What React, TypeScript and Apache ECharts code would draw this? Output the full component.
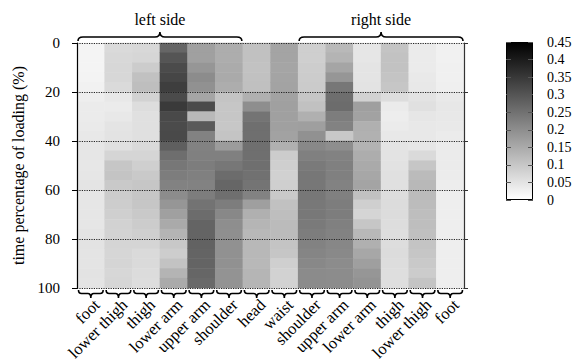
import React, { useEffect, useRef } from "react";
import * as echarts from "echarts";

// body parts along the x axis
const parts = [
  "foot", "lower thigh", "thigh", "lower arm", "upper arm", "shoulder",
  "head", "waist",
  "shoulder", "upper arm", "lower arm", "thigh", "lower thigh", "foot",
];

// time rows (mid-point of each 4 % band of loading time)
const timeRows = [
  "2", "6", "10", "14", "18", "22", "26", "30", "34", "38", "42", "46", "50",
  "54", "58", "62", "66", "70", "74", "78", "82", "86", "90", "94", "98",
];

// values per column, top (0 %) to bottom (100 %)
const footL = [0.02, 0.02, 0.02, 0.022, 0.025, 0.03, 0.035, 0.035, 0.037, 0.04, 0.045, 0.045, 0.042, 0.045, 0.048, 0.045, 0.045, 0.045, 0.045, 0.048, 0.05, 0.048, 0.048, 0.05, 0.048];
const lowerThighL = [0.065, 0.068, 0.07, 0.07, 0.065, 0.04, 0.035, 0.04, 0.048, 0.05, 0.055, 0.075, 0.1, 0.105, 0.095, 0.09, 0.088, 0.085, 0.08, 0.078, 0.075, 0.072, 0.075, 0.07, 0.072];
const thighL = [0.068, 0.072, 0.09, 0.11, 0.115, 0.08, 0.06, 0.055, 0.055, 0.055, 0.065, 0.075, 0.085, 0.095, 0.1, 0.1, 0.1, 0.095, 0.09, 0.085, 0.075, 0.065, 0.065, 0.062, 0.06];
const lowerArmL = [0.27, 0.3, 0.318, 0.326, 0.34, 0.318, 0.348, 0.322, 0.318, 0.322, 0.282, 0.256, 0.24, 0.229, 0.22, 0.203, 0.185, 0.168, 0.15, 0.132, 0.097, 0.088, 0.106, 0.132, 0.15];
const upperArmL = [0.168, 0.168, 0.185, 0.203, 0.194, 0.159, 0.318, 0.124, 0.291, 0.221, 0.221, 0.225, 0.229, 0.225, 0.221, 0.229, 0.247, 0.26, 0.274, 0.274, 0.277, 0.274, 0.274, 0.27, 0.265];
const shoulderL = [0.145, 0.145, 0.148, 0.15, 0.145, 0.105, 0.1, 0.1, 0.098, 0.105, 0.175, 0.225, 0.24, 0.26, 0.27, 0.255, 0.23, 0.21, 0.2, 0.198, 0.195, 0.195, 0.195, 0.19, 0.19];
const head = [0.11, 0.11, 0.108, 0.11, 0.112, 0.14, 0.2, 0.245, 0.255, 0.255, 0.255, 0.255, 0.255, 0.25, 0.245, 0.22, 0.17, 0.14, 0.13, 0.125, 0.125, 0.125, 0.125, 0.13, 0.13];
const waist = [0.16, 0.16, 0.158, 0.16, 0.162, 0.165, 0.168, 0.168, 0.168, 0.165, 0.14, 0.09, 0.085, 0.082, 0.085, 0.095, 0.11, 0.115, 0.12, 0.12, 0.105, 0.1, 0.085, 0.08, 0.08];
const shoulderR = [0.085, 0.085, 0.088, 0.09, 0.092, 0.1, 0.11, 0.14, 0.17, 0.195, 0.21, 0.225, 0.235, 0.24, 0.24, 0.24, 0.238, 0.238, 0.235, 0.23, 0.22, 0.215, 0.21, 0.205, 0.205];
const upperArmR = [0.124, 0.132, 0.159, 0.185, 0.24, 0.256, 0.26, 0.23, 0.22, 0.097, 0.2, 0.22, 0.225, 0.225, 0.221, 0.225, 0.229, 0.229, 0.225, 0.221, 0.212, 0.208, 0.203, 0.203, 0.203];
const lowerArmR = [0.045, 0.045, 0.047, 0.048, 0.05, 0.08, 0.17, 0.165, 0.14, 0.138, 0.135, 0.145, 0.15, 0.155, 0.16, 0.11, 0.085, 0.075, 0.1, 0.125, 0.14, 0.155, 0.17, 0.185, 0.19];
const thighR = [0.105, 0.108, 0.108, 0.105, 0.1, 0.06, 0.035, 0.032, 0.035, 0.04, 0.048, 0.05, 0.052, 0.055, 0.055, 0.06, 0.062, 0.062, 0.06, 0.058, 0.06, 0.062, 0.06, 0.058, 0.058];
const lowerThighR = [0.035, 0.035, 0.035, 0.038, 0.04, 0.05, 0.055, 0.045, 0.04, 0.04, 0.045, 0.065, 0.1, 0.12, 0.125, 0.12, 0.118, 0.115, 0.115, 0.112, 0.105, 0.1, 0.095, 0.09, 0.105];
const footR = [0.025, 0.025, 0.026, 0.026, 0.028, 0.038, 0.042, 0.04, 0.038, 0.035, 0.035, 0.035, 0.035, 0.033, 0.032, 0.03, 0.03, 0.03, 0.03, 0.03, 0.03, 0.03, 0.03, 0.03, 0.03];

const columns = [
  footL, lowerThighL, thighL, lowerArmL, upperArmL, shoulderL,
  head, waist,
  shoulderR, upperArmR, lowerArmR, thighR, lowerThighR, footR,
];

// group braces on top
const sideLabels = ["left side", "right side"];
const sideStart = [0, 8];
const sideEnd = [5, 13];

// colour scale
const scaleMin = 0;
const scaleMax = 0.45;
const scaleStep = 0.05;

const FONT = "'Liberation Serif', 'Times New Roman', Times, serif";

export default function App() {
  const ref = useRef<HTMLDivElement>(null);

  useEffect(() => {
    if (!ref.current) return;
    const chart = echarts.init(ref.current, undefined, { renderer: "svg" });

    const heatData: number[][] = [];
    columns.forEach((col, xi) => {
      col.forEach((v, yi) => heatData.push([xi, yi, v]));
    });

    const bottomBraces = parts.map((_, i) => [i, 0]);
    const topBraces = sideStart.map((s, i) => [s, sideEnd[i], 0, i]);

    const option: any = {
      animation: false,
      textStyle: { fontFamily: FONT, color: "#000" },
      grid: [
        { left: 77, top: 43, width: 387, height: 245, containLabel: false, outerBoundsMode: "none" },
        { left: 506, top: 42, width: 27, height: 158, containLabel: false, outerBoundsMode: "none" },
      ],
      visualMap: {
        type: "continuous",
        show: false,
        min: scaleMin,
        max: scaleMax,
        dimension: 2,
        seriesIndex: 0,
        inRange: { color: ["#ffffff", "#000000"] },
      },
      xAxis: [
        {
          gridIndex: 0,
          type: "category",
          data: parts,
          axisLine: { show: false },
          axisTick: { show: false },
          splitLine: { show: false },
          axisLabel: {
            interval: 0,
            rotate: 45,
            margin: 8,
            verticalAlign: "top",
            color: "#000",
            fontFamily: FONT,
            fontSize: 16.5,
          },
        },
        { gridIndex: 1, type: "category", data: [""], show: false },
      ],
      yAxis: [
        {
          gridIndex: 0,
          type: "category",
          data: timeRows,
          inverse: true,
          show: false,
        },
        {
          gridIndex: 0,
          type: "value",
          min: 0,
          max: 100,
          interval: 20,
          inverse: true,
          position: "left",
          z: 5,
          name: "time percentage of loading (%)",
          nameLocation: "middle",
          nameGap: 51,
          nameTextStyle: { fontFamily: FONT, fontSize: 16, color: "#000" },
          axisLine: { show: true, lineStyle: { color: "#000", width: 1.2 } },
          axisTick: { show: true, length: 5, lineStyle: { color: "#000" } },
          axisLabel: { margin: 17, color: "#000", fontFamily: FONT, fontSize: 15 },
          splitLine: {
            show: true,
            lineStyle: { color: "#222", type: [1.2, 1.2], width: 1.2 },
          },
        },
        {
          gridIndex: 0,
          type: "value",
          min: 0,
          max: 100,
          interval: 20,
          inverse: true,
          position: "right",
          z: 5,
          axisLine: { show: true, lineStyle: { color: "#333", width: 1.2 } },
          axisTick: { show: true, length: 4, lineStyle: { color: "#333" } },
          axisLabel: { show: false },
          splitLine: { show: false },
        },
        {
          gridIndex: 1,
          type: "value",
          min: scaleMin,
          max: scaleMax,
          interval: scaleStep,
          position: "right",
          z: 5,
          axisLine: { show: false },
          axisTick: { show: true, inside: true, length: 5, lineStyle: { color: "#555" } },
          axisLabel: { margin: 14, color: "#000", fontFamily: FONT, fontSize: 14 },
          splitLine: { show: false },
        },
        {
          gridIndex: 1,
          type: "value",
          min: scaleMin,
          max: scaleMax,
          interval: scaleStep,
          position: "left",
          z: 5,
          axisLine: { show: false },
          axisTick: { show: true, inside: true, length: 5, lineStyle: { color: "#555" } },
          axisLabel: { show: false },
          splitLine: { show: false },
        },
      ],
      series: [
        {
          type: "heatmap",
          xAxisIndex: 0,
          yAxisIndex: 0,
          data: heatData,
          emphasis: { disabled: true },
          z: 1,
        },
        {
          type: "custom",
          xAxisIndex: 0,
          yAxisIndex: 0,
          clip: false,
          silent: true,
          data: bottomBraces,
          encode: { x: 0, y: 1 },
          renderItem: (params: any, api: any) => {
            const cs = params.coordSys;
            const cx = api.coord([api.value(0), 0])[0];
            const w = api.size([1, 0])[0];
            const xL = cx - w / 2 + 1.5;
            const xR = cx + w / 2 - 1.5;
            const base = cs.y + cs.height;
            const y0 = base + 2;
            const y1 = base + 5.5;
            const y2 = base + 10;
            const r = 3;
            const d =
              `M${xL} ${y0} Q${xL} ${y1} ${xL + r} ${y1} L${cx - r} ${y1} ` +
              `Q${cx} ${y1} ${cx} ${y2} Q${cx} ${y1} ${cx + r} ${y1} ` +
              `L${xR - r} ${y1} Q${xR} ${y1} ${xR} ${y0}`;
            return {
              type: "path",
              shape: { pathData: d },
              style: { fill: "none", stroke: "#000", lineWidth: 1.6 },
            };
          },
        },
        {
          type: "custom",
          xAxisIndex: 0,
          yAxisIndex: 0,
          clip: false,
          silent: true,
          data: topBraces,
          encode: { x: [0, 1], y: 2 },
          renderItem: (params: any, api: any) => {
            const cs = params.coordSys;
            const w = api.size([1, 0])[0];
            const xL = api.coord([api.value(0), 0])[0] - w / 2 + 1;
            const xR = api.coord([api.value(1), 0])[0] + w / 2 - 1;
            const cx = (xL + xR) / 2;
            const top = cs.y;
            const y0 = top - 2;
            const y1 = top - 6;
            const y2 = top - 11;
            const r = 5;
            const d =
              `M${xL} ${y0} Q${xL} ${y1} ${xL + r} ${y1} L${cx - r} ${y1} ` +
              `Q${cx} ${y1} ${cx} ${y2} Q${cx} ${y1} ${cx + r} ${y1} ` +
              `L${xR - r} ${y1} Q${xR} ${y1} ${xR} ${y0}`;
            return {
              type: "group",
              children: [
                {
                  type: "path",
                  shape: { pathData: d },
                  style: { fill: "none", stroke: "#000", lineWidth: 1.6 },
                },
                {
                  type: "text",
                  style: {
                    text: sideLabels[api.value(3)],
                    x: cx,
                    y: top - 24,
                    align: "center",
                    verticalAlign: "middle",
                    fill: "#000",
                    fontFamily: FONT,
                    fontSize: 16,
                  },
                },
              ],
            };
          },
        },
        {
          type: "bar",
          xAxisIndex: 1,
          yAxisIndex: 3,
          data: [scaleMax],
          barWidth: "100%",
          silent: true,
          z: 1,
          itemStyle: {
            color: {
              type: "linear",
              x: 0,
              y: 0,
              x2: 0,
              y2: 1,
              colorStops: [
                { offset: 0, color: "#000000" },
                { offset: 1, color: "#ffffff" },
              ],
            },
            borderColor: "#000",
            borderWidth: 1,
          },
        },
      ],
    };

    chart.setOption(option);
    return () => chart.dispose();
  }, []);

  return (
    <div
      ref={ref}
      style={{ position: "fixed", left: 0, top: 0, width: 576, height: 364, background: "#fff" }}
    />
  );
}
